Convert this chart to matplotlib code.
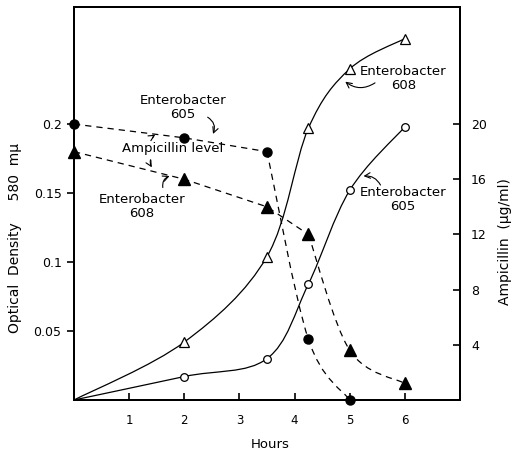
import matplotlib.pyplot as plt
import numpy as np
from matplotlib.path import Path
from matplotlib.patches import PathPatch

# Optical density (left axis)
hours_od = [0, 2, 3.5, 4.25, 5, 6]
od_608 = [0, 0.042, 0.104, 0.197, 0.24, 0.262]
od_605 = [0, 0.017, 0.030, 0.084, 0.152, 0.198]

# Ampicillin level (right axis)
hours_amp_605 = [0, 2, 3.5, 4.25, 5]
amp_605 = [20, 19, 18, 4.4, 0]
hours_amp_608 = [0, 2, 3.5, 4.25, 5, 6]
amp_608 = [18, 16, 14, 12, 3.6, 1.2]


def smooth_curve(ax, xs, ys, **kw):
    # Catmull-Rom style bezier through the measured points
    pts = np.column_stack([xs, ys]).astype(float)
    n = len(pts)
    verts = [pts[0]]
    codes = [Path.MOVETO]
    for i in range(n - 1):
        p0 = pts[i - 1] if i > 0 else pts[i]
        p1 = pts[i]
        p2 = pts[i + 1]
        p3 = pts[i + 2] if i + 2 < n else pts[i + 1]
        verts += [p1 + (p2 - p0) / 6, p2 - (p3 - p1) / 6, p2]
        codes += [Path.CURVE4] * 3
    ax.add_patch(PathPatch(Path(verts, codes), fill=False, **kw))


plt.rcParams['font.family'] = ['DejaVu Sans']
fig = plt.figure(figsize=(5.14, 4.53), dpi=100)
ax = fig.add_axes([0.144, 0.117, 0.751, 0.868])
ax2 = ax.twinx()

# growth curves (solid, open markers)
smooth_curve(ax, hours_od, od_608, color='black', lw=0.9, zorder=2)
ax.plot(hours_od[1:], od_608[1:], ls='none', marker='^', ms=7.5,
        mfc='white', mec='black', mew=0.9, zorder=3)
smooth_curve(ax, hours_od, od_605, color='black', lw=0.9, zorder=2)
ax.plot(hours_od[1:], od_605[1:], ls='none', marker='o', ms=5.5,
        mfc='white', mec='black', mew=0.9, zorder=3)

# ampicillin levels (dashed, filled markers): straight at first, curved on the drop
dash = dict(color='black', lw=0.9, ls=(0, (5, 4)))
ax2.plot(hours_amp_605[:3], amp_605[:3], **dash)
smooth_curve(ax2, hours_amp_605[2:], amp_605[2:], **dash)
ax2.plot(hours_amp_605, amp_605, ls='none', marker='o', ms=6.5,
         mfc='black', mec='black', clip_on=False, zorder=3)
ax2.plot(hours_amp_608[:4], amp_608[:4], **dash)
smooth_curve(ax2, hours_amp_608[3:], amp_608[3:], **dash)
ax2.plot(hours_amp_608, amp_608, ls='none', marker='^', ms=8,
         mfc='black', mec='black', clip_on=False, zorder=3)

ax.set_xlim(0, 7)
ax.set_ylim(0, 0.285)
ax2.set_ylim(0, 28.5)

ax.set_xticks([1, 2, 3, 4, 5, 6])
ax.set_yticks([0.05, 0.1, 0.15, 0.2])
ax.set_yticklabels(['0.05', '0.1', '0.15', '0.2'])
ax2.set_yticks([4, 8, 12, 16, 20])

ax.tick_params(axis='x', direction='in', length=5, width=1.2, labelsize=8.5, pad=10)
ax.tick_params(axis='y', direction='out', length=5, width=1.2, labelsize=9, pad=4)
ax2.tick_params(axis='y', direction='in', length=5, width=1.2, labelsize=9, pad=8)

for a in (ax, ax2):
    for s in a.spines.values():
        s.set_linewidth(1.4)

fig.text(0.525, 0.018, 'Hours', ha='center', va='center', fontsize=9.5)
fig.text(0.03, 0.475, 'Optical  Density     580  m\u03bc', rotation=90,
         ha='center', va='center', fontsize=10)
fig.text(0.982, 0.466, 'Ampicillin  (\u03bcg/ml)', rotation=90,
         ha='center', va='center', fontsize=10)

fs = 9.5
arrow = dict(arrowstyle='->', color='black', lw=0.8)

ax2.text(1.98, 21.2, 'Enterobacter\n605', ha='center', va='center', fontsize=fs,
         linespacing=1.1)
ax2.annotate('', xy=(2.5, 19.1), xytext=(2.38, 20.6),
             arrowprops=dict(arrow, connectionstyle='arc3,rad=-0.5'))

ax2.text(1.78, 18.2, 'Ampicillin level', ha='center', va='center', fontsize=fs)
ax2.annotate('', xy=(1.52, 19.3), xytext=(1.42, 18.8),
             arrowprops=dict(arrow, connectionstyle='arc3,rad=-0.4'))
ax2.annotate('', xy=(1.44, 16.7), xytext=(1.40, 17.6),
             arrowprops=dict(arrow, connectionstyle='arc3,rad=0.3'))

ax2.text(1.23, 14.0, 'Enterobacter\n608', ha='center', va='center', fontsize=fs,
         linespacing=1.1)
ax2.annotate('', xy=(1.78, 16.3), xytext=(1.62, 15.2),
             arrowprops=dict(arrow, connectionstyle='arc3,rad=-0.5'))

ax2.text(5.97, 23.3, 'Enterobacter\n608', ha='center', va='center', fontsize=fs,
         linespacing=1.1)
ax2.annotate('', xy=(4.88, 23.2), xytext=(5.5, 23.1),
             arrowprops=dict(arrow, connectionstyle='arc3,rad=-0.4'))

ax2.text(5.97, 14.5, 'Enterobacter\n605', ha='center', va='center', fontsize=fs,
         linespacing=1.1)
ax2.annotate('', xy=(5.2, 16.2), xytext=(5.58, 15.4),
             arrowprops=dict(arrow, connectionstyle='arc3,rad=0.4'))

fig.savefig('out.png', dpi=100)
